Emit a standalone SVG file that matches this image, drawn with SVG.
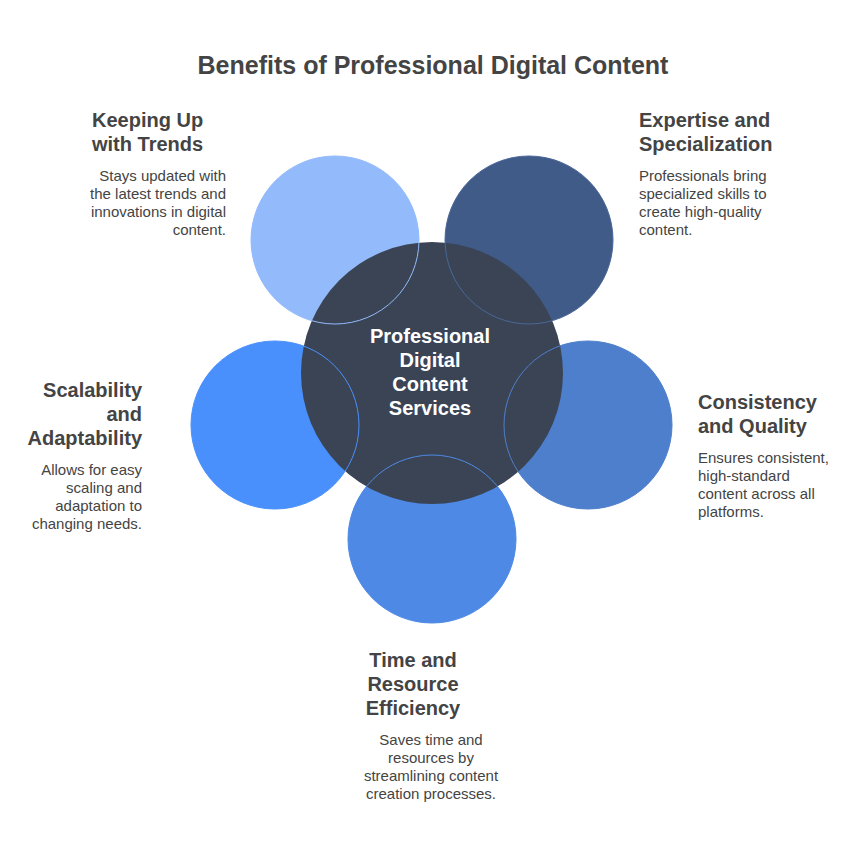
<svg xmlns="http://www.w3.org/2000/svg" width="865" height="852" viewBox="0 0 865 852">
<style>
text{font-family:"Liberation Sans",Arial,sans-serif;fill:#444}
.t{font-size:25px;font-weight:bold}
.h{font-size:20px;font-weight:bold}
.d{font-size:15px}
.c{font-size:20px;font-weight:bold;fill:#fff}
.o{fill:none;stroke-width:1}
</style>
<rect width="865" height="852" fill="#fff"/>
<text class="t" x="433" y="74" text-anchor="middle">Benefits of Professional Digital Content</text>

<g id="trends">
<circle cx="335" cy="240" r="84" fill="#93bbfc"/>
<text class="h" x="92" y="127">Keeping Up</text>
<text class="h" x="92" y="151">with Trends</text>
<text class="d" text-anchor="end"><tspan x="226" y="181">Stays updated with</tspan><tspan x="226" y="199">the latest trends and</tspan><tspan x="226" y="217">innovations in digital</tspan><tspan x="226" y="235">content.</tspan></text>
</g>
<g id="expertise">
<circle cx="529" cy="240" r="84" fill="#405b88"/>
<text class="h" x="639" y="127">Expertise and</text>
<text class="h" x="639" y="151">Specialization</text>
<text class="d"><tspan x="639" y="181">Professionals bring</tspan><tspan x="639" y="199">specialized skills to</tspan><tspan x="639" y="217">create high-quality</tspan><tspan x="639" y="235">content.</tspan></text>
</g>
<g id="scalability">
<circle cx="275" cy="425" r="84" fill="#4a90fc"/>
<text class="h" text-anchor="end"><tspan x="142" y="397">Scalability</tspan><tspan x="142" y="421">and</tspan><tspan x="142" y="445">Adaptability</tspan></text>
<text class="d" text-anchor="end"><tspan x="142" y="475">Allows for easy</tspan><tspan x="142" y="493">scaling and</tspan><tspan x="142" y="511">adaptation to</tspan><tspan x="142" y="529">changing needs.</tspan></text>
</g>
<g id="consistency">
<circle cx="588" cy="425" r="84" fill="#4e7fcc"/>
<text class="h"><tspan x="698" y="409">Consistency</tspan><tspan x="698" y="433">and Quality</tspan></text>
<text class="d"><tspan x="698" y="463">Ensures consistent,</tspan><tspan x="698" y="481">high-standard</tspan><tspan x="698" y="499">content across all</tspan><tspan x="698" y="517">platforms.</tspan></text>
</g>
<g id="efficiency">
<circle cx="432" cy="539" r="84" fill="#4e89e6"/>
<text class="h" text-anchor="middle"><tspan x="413" y="667">Time and</tspan><tspan x="413" y="691">Resource</tspan><tspan x="413" y="715">Efficiency</tspan></text>
<text class="d" text-anchor="middle"><tspan x="431" y="745">Saves time and</tspan><tspan x="431" y="763">resources by</tspan><tspan x="431" y="781">streamlining content</tspan><tspan x="431" y="799">creation processes.</tspan></text>
</g>
<g id="center">
<circle cx="432" cy="373" r="131" fill="#3a4455"/>
<text class="c" text-anchor="middle"><tspan x="430" y="343">Professional</tspan><tspan x="430" y="367">Digital</tspan><tspan x="430" y="391">Content</tspan><tspan x="430" y="415">Services</tspan></text>
</g>
<g id="outlines">
<circle class="o" cx="335" cy="240" r="84" stroke="#93bbfc"/>
<circle class="o" cx="529" cy="240" r="84" stroke="#4a6799"/>
<circle class="o" cx="275" cy="425" r="84" stroke="#4a90fc"/>
<circle class="o" cx="588" cy="425" r="84" stroke="#4e7fcc"/>
<circle class="o" cx="432" cy="539" r="84" stroke="#4e89e6"/>
</g>
</svg>
